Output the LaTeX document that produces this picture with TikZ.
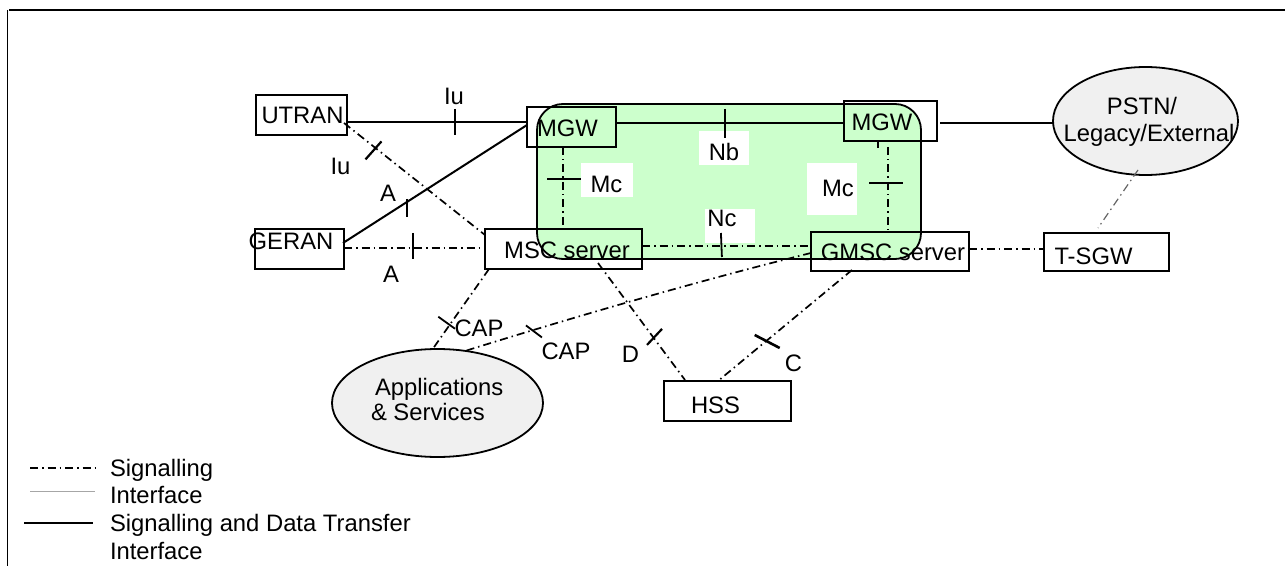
\documentclass[tikz,border=0pt]{standalone}
\usepackage{fontspec}
\setmainfont{Liberation Sans}
\usetikzlibrary{shapes.geometric}
\definecolor{corefill}{HTML}{CCFFCC}
\definecolor{ellfill}{HTML}{F0F0F0}
\begin{document}
\begin{tikzpicture}[x=1pt,y=-1pt,
  box/.style={draw, line width=1.8pt, inner sep=0pt, outer sep=0pt},
  cloud/.style={ellipse, draw, line width=1.8pt, fill=ellfill, inner sep=0pt, outer sep=0pt},
  wbox/.style={fill=white, inner sep=0pt, outer sep=0pt},
  txt/.style={inner sep=0pt, outer sep=0pt, anchor=base, font=\fontsize{23.8}{26}\selectfont},
  txtw/.style={txt, anchor=base west},
  sd/.style={line width=2pt},
  sig/.style={line width=1.7pt, dash pattern=on 8pt off 4pt on 1.5pt off 4pt},
  tickmark/.style={line width=2.2pt}
]
\useasboundingbox (0,0) rectangle (1285,569);
% frame
\draw[line width=1.2pt] (9,10) -- (1285,10);
\draw[line width=1.2pt] (7.5,10) -- (7.5,566);

% core network area
\node[draw, line width=1.8pt, fill=corefill, rounded corners=26pt, minimum width=384pt, minimum height=155pt, inner sep=0pt] (core) at (729,181.5) {};

% white label boxes
\node[wbox, minimum width=50pt, minimum height=34pt] (nbbox) at (724,148) {};
\node[wbox, minimum width=52pt, minimum height=34pt] (mc1box) at (607,180) {};
\node[wbox, minimum width=50pt, minimum height=52pt] (mc2box) at (832,189) {};
\node[wbox, minimum width=50pt, minimum height=34pt] (ncbox) at (730,226) {};

% boxes
\node[box, minimum width=91pt, minimum height=40pt] (utran) at (301.5,115) {};
\node[box, minimum width=89pt, minimum height=40pt] (geran) at (299.5,249) {};
\node[box, minimum width=89pt, minimum height=40pt] (mgw1) at (571.5,127) {};
\node[box, minimum width=93pt, minimum height=40pt] (mgw2) at (890.5,121) {};
\node[box, minimum width=157pt, minimum height=40pt] (msc) at (563.5,249) {};
\node[box, minimum width=158pt, minimum height=39pt] (gmsc) at (890,251.5) {};
\node[box, minimum width=125pt, minimum height=38pt] (tsgw) at (1106.5,252) {};
\node[box, minimum width=127pt, minimum height=40pt] (hss) at (727.5,401) {};
\node[cloud, minimum width=185pt, minimum height=108pt] (pstn) at (1145.5,121) {};
\node[cloud, minimum width=211pt, minimum height=108pt] (apps) at (437.5,403) {};

% connectors
\draw[sd] ([shift={(0,7)}]utran.east) -- coordinate[pos=0.6] (tiu) ([shift={(0,-5)}]mgw1.west);
\draw[tickmark, line width=2.8pt] ([shift={(0,-13)}]tiu) -- ([shift={(0,13)}]tiu);

\draw[sd] ([shift={(-1,-6)}]geran.east) -- coordinate[pos=0.348] (ta1) ([shift={(0,-2)}]mgw1.west);
\draw[tickmark, line width=2.8pt] ([shift={(0,-3)}]ta1) -- ([shift={(0,15)}]ta1);

\draw[sig] ([shift={(-3,8)}]utran.east) -- coordinate[pos=0.209] (tiu2) ([shift={(0,-14)}]msc.west);
\draw[tickmark] ([shift={(-8,13)}]tiu2) -- ([shift={(8,-5)}]tiu2);

\draw[sig] ([shift={(0,-1)}]geran.east) -- coordinate[pos=0.489] (ta2) ([shift={(0,-1)}]msc.west);
\draw[tickmark, line width=2.8pt] ([shift={(0,-15)}]ta2) -- ([shift={(0,11)}]ta2);

\draw[sig] ([shift={(-8.5,0)}]mgw1.south) -- coordinate[pos=0.39] (tmc1) ([shift={(-0.5,0)}]msc.north);
\draw[tickmark] ([shift={(-16,0)}]tmc1) -- ([shift={(18,0)}]tmc1);

\draw[sig] ([shift={(-2.5,6)}]mgw2.south) -- coordinate[pos=0.42] (tmc2) ([shift={(-2,0)}]gmsc.north);
\draw[tickmark] ([shift={(-19,0)}]tmc2) -- ([shift={(15,0)}]tmc2);
\draw[line width=1.6pt] ([shift={(-12.5,0)}]mgw2.south) -- ([shift={(-12.5,7)}]mgw2.south);

\draw[sd] ([shift={(0,-4)}]mgw1.east) -- coordinate[pos=0.478] (tnb) ([shift={(0,2)}]mgw2.west);
\draw[tickmark] ([shift={(0,-14)}]tnb) -- ([shift={(0,15)}]tnb);

\draw[sig, line width=2.4pt] ([shift={(0,-3)}]msc.east) -- coordinate[pos=0.467] (tnc) ([shift={(0,-5.5)}]gmsc.west);
\draw[tickmark, line width=1.8pt] ([shift={(0,-13)}]tnc) -- ([shift={(1,11)}]tnc);

\draw[sd] ([shift={(3,2)}]mgw2.east) -- ([shift={(0,2)}]pstn.west);

\draw[sig, line width=1.2pt, black!60] ([shift={(-7.5,-5)}]pstn.south) -- ([shift={(-8.5,-5)}]tsgw.north);

\draw[sig] ([shift={(0,-2.5)}]gmsc.east) -- ([shift={(0,-3)}]tsgw.west);

\draw[sig] ([shift={(4,0)}]msc.south west) -- coordinate[pos=0.667] (tcap1) ([shift={(-5.5,1)}]apps.north);
\draw[tickmark, line width=1.8pt] ([shift={(-12.7,-6.3)}]tcap1) -- ([shift={(4,5.7)}]tcap1);

\draw[sig] ([shift={(0,1.5)}]gmsc.west) .. controls (710,278) and (590,312) .. coordinate[pos=0.82] (tcap2) ([shift={(27.5,2)}]apps.north);
\draw[tickmark, line width=1.8pt] ([shift={(-6,-5)}]tcap2) -- ([shift={(10,7)}]tcap2);

\draw[sig] ([shift={(34.5,-6)}]msc.south) -- coordinate[pos=0.632] (td) ([shift={(21,-1)}]hss.north west);
\draw[tickmark] ([shift={(-6,8)}]td) -- ([shift={(9,-8)}]td);

\draw[sig] ([shift={(-38,-1)}]gmsc.south) -- coordinate[pos=0.644] (tc) ([shift={(-9.5,0)}]hss.north);
\draw[tickmark, line width=2.6pt] ([shift={(-11,-6.5)}]tc) -- ([shift={(14,6.5)}]tc);

% texts
\node[txt] (tutran) at (302.5,124) {UTRAN};
\node[txt] (tgeran) at (291,249.5) {GERAN};
\node[txt] (tmgw1) at (567.5,136.5) {MGW};
\node[txt] (tmgw2) at (882,130.5) {MGW};
\node[txt] (tmsc) at (567,259) {MSC server};
\node[txt] (tgmsc) at (893,261) {GMSC server};
\node[txt] (ttsgw) at (1093.5,265) {T-SGW};
\node[txt] (thss) at (715.5,413) {HSS};
\node[txt] (tpstn1) at (1142,115) {PSTN/};
\node[txt] (tpstn2) at (1149,141.7) {Legacy/External};
\node[txtw] (tapps1) at (375,395) {Applications};
\node[txtw] (tapps2) at (371,420.7) {\& Services};

\node[txt] (liu1) at (454,105) {Iu};
\node[txt] (liu2) at (340.5,175) {Iu};
\node[txt] (la1) at (388,201.7) {A};
\node[txt] (la2) at (391,282.7) {A};
\node[txt] (lnb) at (724,161) {Nb};
\node[txt] (lmc1) at (606.5,193) {Mc};
\node[txt] (lmc2) at (838,197) {Mc};
\node[txt] (lnc) at (722,226.7) {Nc};
\node[txt] (lcap1) at (479,337) {CAP};
\node[txt] (lcap2) at (566,359) {CAP};
\node[txt] (ld) at (630.5,362.7) {D};
\node[txt] (lc) at (793.5,371) {C};

% legend
\draw[sig] (30,468) -- (97,468);
\draw[black!35, line width=0.8pt] (30,491) -- (95,491);
\draw[line width=2.6pt] (24,523) -- (93,523);
\node[txtw] (lg1) at (110,476.5) {Signalling};
\node[txtw] (lg2) at (110,503) {Interface};
\node[txtw] (lg3) at (110,531.5) {Signalling and Data Transfer};
\node[txtw] (lg4) at (110,559) {Interface};
\end{tikzpicture}
\end{document}
